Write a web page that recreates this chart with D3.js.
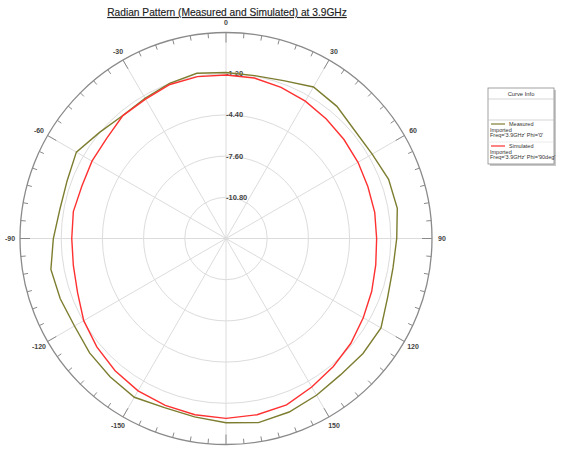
<!DOCTYPE html>
<html>
<head>
<meta charset="utf-8">
<script src="https://cdn.jsdelivr.net/npm/d3@7"></script>
<style>
  body { margin: 0; background: #fff; }
  svg { display: block; font-family: "Liberation Sans", Arial, sans-serif; }
</style>
</head>
<body>
<svg id="chart" width="563" height="450"></svg>
<script>
"use strict";

// angles in degrees, clockwise from top (0..350)
var angles = [0, 10, 20, 30, 40, 50, 60, 70, 80, 90, 100, 110, 120, 130, 140, 150, 160, 170,
	180, 190, 200, 210, 220, 230, 240, 250, 260, 270, 280, 290, 300, 310, 320, 330, 340, 350];

var measured = [-1.11, -1.15, -0.95, -0.41, -0.60, -0.95, -0.89, -0.56, -0.49, -0.74, -0.83, -0.64,
	-0.10, -0.11, -0.17, 0.06, 0.34, 0.52, 0.31, 0.07, -0.02, 0.24, 0.01, -0.17,
	-0.41, -0.30, -0.19, -0.59, -0.90, -0.87, -0.58, -1.18, -1.53, -1.42, -1.18, -0.97];

var simulated = [-1.30, -1.34, -1.50, -1.68, -1.88, -2.04, -2.16, -2.27, -2.27, -2.30, -2.19, -1.96,
	-1.69, -1.34, -1.03, -0.68, -0.25, -0.10, -0.03, -0.10, -0.21, -0.34, -0.60, -0.90,
	-1.24, -1.73, -1.96, -2.02, -1.96, -2.09, -1.98, -1.90, -1.54, -1.50, -1.27, -1.23];

var ringTicks = [-10.8, -7.6, -4.4, -1.2];
var angleTicks = [0, 30, 60, 90, 120, 150, 180, 210, 240, 270, 300, 330];
var angleLabels = ["0", "30", "60", "90", "120", "150", "180", "-150", "-120", "-90", "-60", "-30"];

var legendItems = [
	{name: "Measured", line2: "Imported", line3: "Freq='3.9GHz' Phi='0'", color: "#7d7d30"},
	{name: "Simulated", line2: "Imported", line3: "Freq='3.9GHz' Phi='90deg'", color: "#ff3030"}
];

var Chart = (function(){
	var svg = d3.select("#chart"),
		cx = 226, cy = 238.5, R = 206;

	var r = d3.scaleLinear().domain([-14, 2]).range([0, R]);
	var a = d3.scaleLinear().domain([0, 360]).range([0, 2 * Math.PI]);

	function pt(deg, rad) {
		var t = a(deg);
		return [cx + rad * Math.sin(t), cy - rad * Math.cos(t)];
	}

	function drawTitle() {
		svg.append("text")
			.attr("x", 227).attr("y", 16)
			.attr("text-anchor", "middle")
			.attr("font-size", 10.2)
			.attr("fill", "#222")
			.attr("stroke", "#222")
			.attr("stroke-width", 0.15)
			.attr("text-decoration", "underline")
			.text("Radian Pattern (Measured and Simulated) at 3.9GHz");
	}

	function drawGrid() {
		var g = svg.append("g");
		g.selectAll("circle.ring")
			.data(ringTicks)
			.enter()
			.append("circle")
			.attr("class", "ring")
			.attr("cx", cx).attr("cy", cy)
			.attr("r", function(d) { return r(d); })
			.attr("fill", "none")
			.attr("stroke", "#dcdcdc")
			.attr("stroke-width", 1);

		g.selectAll("line.spoke")
			.data(angleTicks)
			.enter()
			.append("line")
			.attr("class", "spoke")
			.attr("x1", cx).attr("y1", cy)
			.attr("x2", function(d) { return pt(d, R)[0]; })
			.attr("y2", function(d) { return pt(d, R)[1]; })
			.attr("stroke", "#dcdcdc")
			.attr("stroke-width", 1);

		// outer axis circle
		g.append("circle")
			.attr("cx", cx).attr("cy", cy).attr("r", R)
			.attr("fill", "none")
			.attr("stroke", "#8a8a8a")
			.attr("stroke-width", 1.3);

		var minor = d3.range(0, 360, 5);
		g.selectAll("line.tick")
			.data(minor)
			.enter()
			.append("line")
			.attr("class", "tick")
			.attr("x1", function(d) { return pt(d, R)[0]; })
			.attr("y1", function(d) { return pt(d, R)[1]; })
			.attr("x2", function(d) { return pt(d, R - (d % 30 === 0 ? 10 : 5))[0]; })
			.attr("y2", function(d) { return pt(d, R - (d % 30 === 0 ? 10 : 5))[1]; })
			.attr("stroke", "#8a8a8a")
			.attr("stroke-width", 1);

		g.selectAll("text.alabel")
			.data(angleTicks)
			.enter()
			.append("text")
			.attr("class", "alabel")
			.attr("x", function(d) { return pt(d, R + 10)[0]; })
			.attr("y", function(d) { return pt(d, R + 10)[1] + 2.5; })
			.attr("text-anchor", "middle")
			.attr("font-size", 7)
			.attr("font-weight", "bold")
			.attr("fill", "#444")
			.text(function(d, i) { return angleLabels[i]; });

		g.selectAll("text.rlabel")
			.data(ringTicks)
			.enter()
			.append("text")
			.attr("class", "rlabel")
			.attr("x", cx)
			.attr("y", function(d) { return cy - r(d) + 2.5; })
			.attr("font-size", 7.5)
			.attr("font-weight", "bold")
			.attr("fill", "#444")
			.text(function(d) { return d.toFixed(2); });
	}

	function drawSeries(values, color) {
		var line = d3.lineRadial()
			.angle(function(d, i) { return a(angles[i]); })
			.radius(function(d) { return r(d); })
			.curve(d3.curveLinearClosed);
		svg.append("path")
			.datum(values)
			.attr("transform", "translate(" + cx + "," + cy + ")")
			.attr("d", line)
			.attr("fill", "none")
			.attr("stroke", color)
			.attr("stroke-width", 1.4);
	}

	function drawLegend() {
		var x = 488, y = 88, w = 66, h = 76;
		var g = svg.append("g");
		g.append("rect")
			.attr("x", x + 2).attr("y", y + 2).attr("width", w).attr("height", h)
			.attr("fill", "#c8c8c8");
		g.append("rect")
			.attr("x", x).attr("y", y).attr("width", w).attr("height", h)
			.attr("fill", "#fff").attr("stroke", "#8a8a8a").attr("stroke-width", 0.8);
		g.append("text")
			.attr("x", x + w / 2).attr("y", y + 7.5)
			.attr("text-anchor", "middle")
			.attr("font-size", 5.8).attr("fill", "#333")
			.text("Curve Info");
		[11, 32].forEach(function(dy) {
			g.append("line")
				.attr("x1", x).attr("x2", x + w)
				.attr("y1", y + dy).attr("y2", y + dy)
				.attr("stroke", "#bbb").attr("stroke-width", 0.6);
		});
		g.append("line")
			.attr("x1", x).attr("x2", x + w)
			.attr("y1", y + 54).attr("y2", y + 54)
			.attr("stroke", "#ddd").attr("stroke-width", 0.6);

		legendItems.forEach(function(item, i) {
			var top = y + 36 + i * 22;
			g.append("line")
				.attr("x1", x + 3).attr("x2", x + 17)
				.attr("y1", top).attr("y2", top)
				.attr("stroke", item.color).attr("stroke-width", 1.2);
			g.append("text")
				.attr("x", x + 21).attr("y", top + 2)
				.attr("font-size", 5.5).attr("fill", "#333")
				.text(item.name);
			g.append("text")
				.attr("x", x + 2).attr("y", top + 7.5)
				.attr("font-size", 5.5).attr("fill", "#333")
				.text(item.line2);
			g.append("text")
				.attr("x", x + 2).attr("y", top + 13)
				.attr("font-size", 5.5).attr("fill", "#333")
				.text(item.line3);
		});
	}

	function init() {
		drawTitle();
		drawGrid();
		drawSeries(measured, legendItems[0].color);
		drawSeries(simulated, legendItems[1].color);
		drawLegend();
	}

	return {
		"init": init
	};
}());

Chart.init();
</script>
</body>
</html>
